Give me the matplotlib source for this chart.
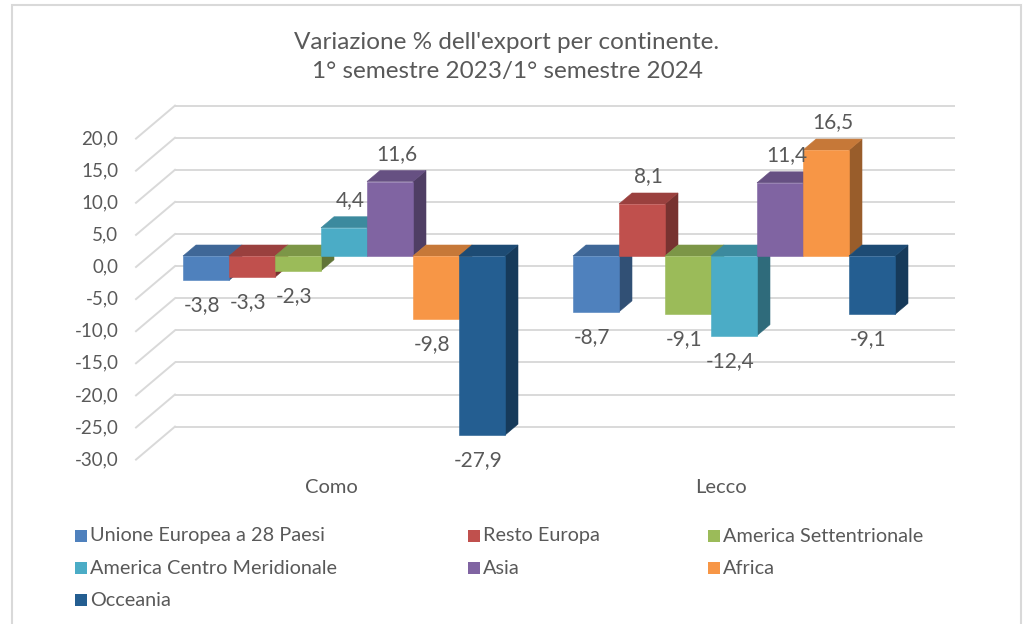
import matplotlib
matplotlib.use("Agg")
import matplotlib.pyplot as plt
from matplotlib.patches import Polygon, Rectangle
from matplotlib.colors import to_rgb

plt.rcParams['font.family'] = ['Lato', 'DejaVu Sans']

categories = ["Como", "Lecco"]
series = ["Unione Europea a 28 Paesi", "Resto Europa", "America Settentrionale",
          "America Centro Meridionale", "Asia", "Africa", "Occeania"]
como = [-3.8, -3.3, -2.3, 4.4, 11.6, -9.8, -27.9]
lecco = [-8.7, 8.1, -9.1, -12.4, 11.4, 16.5, -9.1]
values = [como, lecco]
ticks = [20, 15, 10, 5, 0, -5, -10, -15, -20, -25, -30]

colors = ["#4F81BD", "#C0504D", "#9BBB59", "#4BACC6", "#8064A2", "#F79646", "#245E91"]
text_col = "#595959"
grid_col = "#D9D9D9"

W, H = 1024, 624
fig = plt.figure(figsize=(W / 100, H / 100), dpi=100)
ax = fig.add_axes([0, 0, 1, 1])
ax.axis('off')

# pixel <-> data mapping (front plane of the 3d box)
px_per_x = 390.0
px_per_y = 6.42
ax.set_xlim(-331 / px_per_x, (W - 331) / px_per_x)
ax.set_ylim((267 - H) / px_per_y, 267 / px_per_y)

dx, dy = 39 / px_per_x, 33 / px_per_y   # depth of the box
x0, x1 = -0.5, 1.5

def fmt(v):
    return f"{v:.1f}".replace('.', ',')

def shade(c, f):
    r, g, b = to_rgb(c)
    return (r * f, g * f, b * f)

# walls: back gridlines + side diagonals
for t in ticks:
    ax.plot([x0 + dx, x1 + dx], [t + dy, t + dy], color=grid_col, lw=1.4, zorder=1,
            solid_capstyle='butt')
    ax.plot([x0, x0 + dx], [t, t + dy], color=grid_col, lw=1.4, zorder=1)
    ax.text(x0 - 0.045, t, fmt(t), ha='right', va='center', fontsize=13.5, color=text_col)

# bars
w = 46 / px_per_x
fx, fy = dx / 3, dy / 3
z = 2
for i, cat in enumerate(categories):
    for j, v in enumerate(values[i]):
        xl = i - 3.5 * w + j * w + fx
        xr = xl + w
        c = colors[j]
        top = max(v, 0)
        front = Rectangle((xl, fy), w, v, facecolor=c, edgecolor=c, lw=0.4, zorder=z)
        topf = Polygon([(xl, top + fy), (xr, top + fy), (xr + fx, top + 2 * fy),
                        (xl + fx, top + 2 * fy)], closed=True,
                       facecolor=shade(c, 0.8), edgecolor=shade(c, 0.8), lw=0.4, zorder=z)
        side = Polygon([(xr, fy), (xr, v + fy), (xr + fx, v + 2 * fy), (xr + fx, 2 * fy)],
                       closed=True, facecolor=shade(c, 0.62), edgecolor=shade(c, 0.62),
                       lw=0.4, zorder=z)
        ax.add_patch(side)
        ax.add_patch(topf)
        ax.add_patch(front)
        z += 1
        if v >= 0:
            ax.text(xl + w / 2 + fx / 2, v + fy + 4.3, fmt(v), ha='center', va='center',
                    fontsize=15, color=text_col, zorder=50)
        else:
            ax.text(xl + w / 2 - 0.01, v + fy - 3.9, fmt(v), ha='center', va='center',
                    fontsize=15, color=text_col, zorder=50)
    ax.text(i, -34.4, cat, ha='center', va='center', fontsize=14.5, color=text_col)

# title
fig.text(507 / W, 1 - 57 / H, "Variazione % dell'export per continente.\n1° semestre 2023/1° semestre 2024",
         ha='center', va='center', fontsize=17.5, color=text_col, linespacing=1.42)

# legend
col_x = [75, 468, 708]
row_y = [536, 568, 600]
for k, name in enumerate(series):
    r, cidx = divmod(k, 3)
    sx, sy = col_x[cidx], row_y[r]
    fig.add_artist(Rectangle((sx / W, 1 - (sy + 6) / H), 12 / W, 12 / H,
                             transform=fig.transFigure, facecolor=colors[k], edgecolor='none'))
    fig.text((sx + 15) / W, 1 - sy / H, name, ha='left', va='center', fontsize=14.3, color=text_col)

# chart frame
fig.add_artist(Rectangle((12 / W, -0.02), (1021 - 12) / W, 1.02 - 5 / H,
                         transform=fig.transFigure, facecolor='none', edgecolor=grid_col, lw=1.5))

fig.savefig("out.png", dpi=100, facecolor='white')
